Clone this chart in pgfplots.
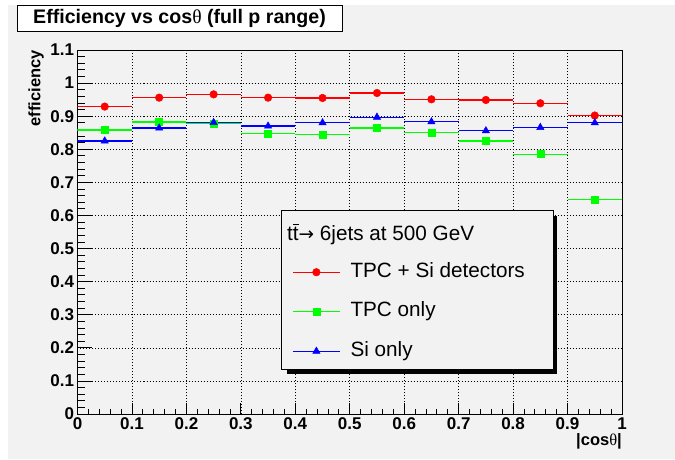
\documentclass[border=0pt]{standalone}
\usepackage{fontspec}
\setmainfont{Liberation Sans}
\newfontfamily\serifgreek{Liberation Serif}
\newfontfamily\dejavu{DejaVu Sans}
\usepackage{pgfplots}
\pgfplotsset{compat=1.18}
\definecolor{bg}{RGB}{242,242,242}
\newcommand{\thet}{{\serifgreek\mdseries θ}}
\pgfplotsset{
  binplot/.style={only marks, line width=1.3pt,
    legend image code/.code={\draw[##1, sharp plot, line width=1.3pt, mark repeat=2, mark phase=2] plot coordinates {(0pt,0pt) (23.5pt,0pt) (47pt,0pt)};},
    error bars/x dir=both, error bars/x fixed=0.05, error bars/error mark=none,
    error bars/error bar style={line width=1.3pt}},
}
\begin{document}
\begin{tikzpicture}
\fill[white] (0,0) rectangle (675pt,-459pt);
\fill[bg] (8pt,-5pt) rectangle (675pt,-459pt);
\node[draw=black, line width=0.8pt, fill=white, minimum width=325pt, minimum height=26pt, inner sep=0pt,
  font=\fontsize{19.6}{22}\selectfont\bfseries] at (179.5pt,-18.5pt) {Efficiency vs cos\thet{} (full p range)};
\begin{axis}[
  at={(77.5pt,-414pt)}, anchor=south west,
  scale only axis, width=544.5pt, height=364pt,
  xmin=0, xmax=1, ymin=0, ymax=1.1,
  xtick={0,0.1,0.2,0.3,0.4,0.5,0.6,0.7,0.8,0.9,1},
  ytick={0,0.1,0.2,0.3,0.4,0.5,0.6,0.7,0.8,0.9,1,1.1},
  minor x tick num=4, minor y tick num=4,
  tick pos=left, tick align=inside,
  xtick style={/pgfplots/major tick length=11pt, /pgfplots/minor tick length=5.5pt, line width=0.8pt, black},
  ytick style={/pgfplots/major tick length=15pt, /pgfplots/minor tick length=7.5pt, line width=0.8pt, black},
  grid=major,
  major grid style={black, line width=0.6pt, dash pattern=on 1pt off 2pt},
  axis line style={line width=1pt},
  axis background/.style={fill=bg},
  /pgf/number format/assume math mode=true,
  tick label style={font=\fontsize{17}{19}\selectfont\bfseries},
  xticklabel style={yshift=-0.5pt},
  xlabel={|cos\thet|},
  xlabel style={at={(rel axis cs:1,0)}, anchor=north east, inner sep=0pt, yshift=-19pt,
    font=\fontsize{16.5}{18}\selectfont\bfseries},
  ylabel={efficiency},
  ylabel style={at={(rel axis cs:-0.0762,1)}, rotate=0, anchor=east, inner sep=0pt,
    font=\fontsize{16.5}{18}\selectfont\bfseries},
  legend cell align=left,
  legend style={draw=none, fill=none, at={(0.394,0.4148)}, anchor=north west, inner sep=0pt,
    row sep=21.5pt, column sep=10pt, font=\fontsize{20.7}{24}\selectfont,
    nodes={inner sep=0pt, text height=14pt, text depth=4pt}},
]
\addplot+[binplot, color=red, mark=*, mark size=3.8pt, mark options={fill=red, draw=red, line width=0.5pt}] coordinates {
(0.05,0.929) (0.15,0.956) (0.25,0.966) (0.35,0.956) (0.45,0.955)
(0.55,0.970) (0.65,0.951) (0.75,0.949) (0.85,0.939) (0.95,0.902)};
\addlegendentry{TPC + Si detectors}
\addplot+[binplot, color=green, mark=square*, mark size=3.5pt, mark options={fill=green, draw=green, line width=0.5pt}] coordinates {
(0.05,0.858) (0.15,0.882) (0.25,0.878) (0.35,0.847) (0.45,0.845)
(0.55,0.864) (0.65,0.850) (0.75,0.825) (0.85,0.785) (0.95,0.648)};
\addlegendentry{TPC only}
\addplot+[binplot, color=blue, mark=triangle*, mark size=4.2pt, mark options={fill=blue, draw=blue, line width=0.5pt}] coordinates {
(0.05,0.825) (0.15,0.864) (0.25,0.881) (0.35,0.870) (0.45,0.880)
(0.55,0.897) (0.65,0.883) (0.75,0.856) (0.85,0.866) (0.95,0.880)};
\addlegendentry{Si only}
\fill[black] (rel axis cs:0.3848,0.1099) rectangle (rel axis cs:0.8806,0.5440);
\filldraw[fill=bg, draw=black, line width=0.8pt] (rel axis cs:0.3747,0.1236) rectangle (rel axis cs:0.8733,0.5604);
\node[anchor=base west, inner sep=0pt, font=\fontsize{20.7}{24}\selectfont] at (rel axis cs:0.3847,0.476)
  {t\rlap{\raisebox{0.74em}{\rule{0.27em}{0.07em}}}t{\dejavu\fontsize{18.5}{20}\selectfont →} 6jets at 500 GeV};
\end{axis}
\pgfresetboundingbox
\path[use as bounding box] (0,0) rectangle (675pt,-459pt);
\end{tikzpicture}
\end{document}
